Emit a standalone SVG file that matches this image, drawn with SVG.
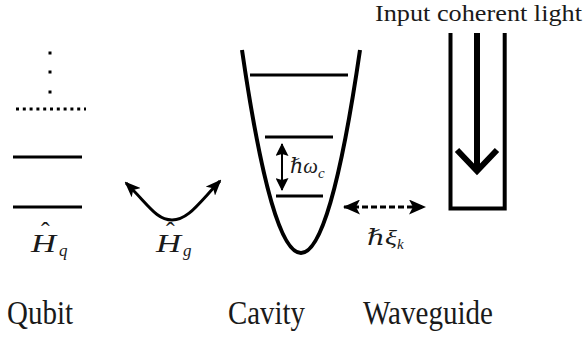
<svg xmlns="http://www.w3.org/2000/svg" width="585" height="337" viewBox="0 0 585 337">
<defs>
<style>
.ln{stroke:#000;stroke-width:3;fill:none}
text{font-family:'Liberation Serif','Times New Roman','DejaVu Serif',serif;fill:#1a1a1a}
.lbl{font-size:34px}
.m{font-style:italic}
.hat{font-style:normal}
</style>
<marker id="hg" viewBox="0 0 16 13" refX="14" refY="6.5" markerWidth="16" markerHeight="13" orient="auto-start-reverse" markerUnits="userSpaceOnUse"><path d="M0,0 L16,6.5 L0,13 L4,6.5 z" fill="#000"/></marker>
<marker id="wc" viewBox="0 0 13 13" refX="12" refY="6.5" markerWidth="13" markerHeight="13" orient="auto-start-reverse" markerUnits="userSpaceOnUse"><path d="M0,0 L13,6.5 L0,13 L2,6.5 z" fill="#000"/></marker>
<marker id="xk" viewBox="0 0 17 15" refX="16" refY="7.5" markerWidth="17" markerHeight="15" orient="auto-start-reverse" markerUnits="userSpaceOnUse"><path d="M0,0 L17,7.5 L0,15 L4,7.5 z" fill="#000"/></marker>
</defs>
<rect width="585" height="337" fill="#fff"/>

<g id="qubit">
<rect x="48.5" y="51.5" width="3" height="3" fill="#000"/>
<rect x="48.5" y="70.5" width="3" height="3" fill="#000"/>
<rect x="48.5" y="90.5" width="3" height="3" fill="#000"/>
<line x1="16" y1="109" x2="86" y2="109" stroke="#000" stroke-width="3" stroke-dasharray="3 3.8"/>
<line class="ln" x1="13" y1="157" x2="82" y2="157"/>
<line class="ln" x1="13" y1="207" x2="82" y2="207"/>
<text class="m" x="31" y="252" font-size="26" textLength="25" lengthAdjust="spacingAndGlyphs">H</text>
<text class="m" x="41" y="240" font-size="26"><tspan class="hat">ˆ</tspan><tspan x="59" y="256" font-size="17">q</tspan></text>
<text class="lbl" x="7" y="324" textLength="66" lengthAdjust="spacingAndGlyphs">Qubit</text>
</g>

<g id="cavity">
<path d="M242,50 Q301,456 360,50" stroke="#000" stroke-width="4" fill="none"/>
<line class="ln" x1="250" y1="75" x2="348" y2="75"/>
<line class="ln" x1="265" y1="137" x2="333" y2="137"/>
<line class="ln" x1="276" y1="196" x2="323" y2="196"/>
<text class="m" x="290" y="173" font-size="21" textLength="28" lengthAdjust="spacingAndGlyphs">ℏω</text>
<text class="m" x="318" y="178" font-size="15">c</text>
<text class="lbl" x="228" y="324" textLength="77" lengthAdjust="spacingAndGlyphs">Cavity</text>
</g>

<g id="waveguide">
<path d="M450.5,33 L450.5,208.5 L504.7,208.5 L504.7,33" stroke="#000" stroke-width="4" fill="none"/>
<line x1="477" y1="33" x2="477" y2="168" stroke="#000" stroke-width="6"/>
<polyline points="457,150 477,171 497,150" stroke="#000" stroke-width="6" fill="none" stroke-linejoin="miter"/>
<text x="375" y="21" font-size="23" textLength="207" lengthAdjust="spacingAndGlyphs">Input coherent light</text>
<text class="lbl" x="363" y="324" textLength="130" lengthAdjust="spacingAndGlyphs">Waveguide</text>
</g>

<g id="connectors">
<path d="M126,183 C148,204 156,220 172,220 C188,220 198,204 220,181" stroke="#000" stroke-width="3" fill="none" marker-start="url(#hg)" marker-end="url(#hg)"/>
<text class="m" x="156" y="252" font-size="26" textLength="25" lengthAdjust="spacingAndGlyphs">H</text>
<text class="m" x="166" y="240" font-size="26"><tspan class="hat">ˆ</tspan><tspan x="183" y="256" font-size="17">g</tspan></text>
<line x1="282" y1="144" x2="282" y2="190" stroke="#000" stroke-width="2" marker-start="url(#wc)" marker-end="url(#wc)"/>
<line x1="344" y1="207" x2="425" y2="207" stroke="#000" stroke-width="3" stroke-dasharray="6 3" marker-start="url(#xk)" marker-end="url(#xk)"/>
<text class="m" x="367" y="245" font-size="22" textLength="30" lengthAdjust="spacingAndGlyphs">ℏξ</text>
<text class="m" x="397" y="249" font-size="15">k</text>
</g>
</svg>
